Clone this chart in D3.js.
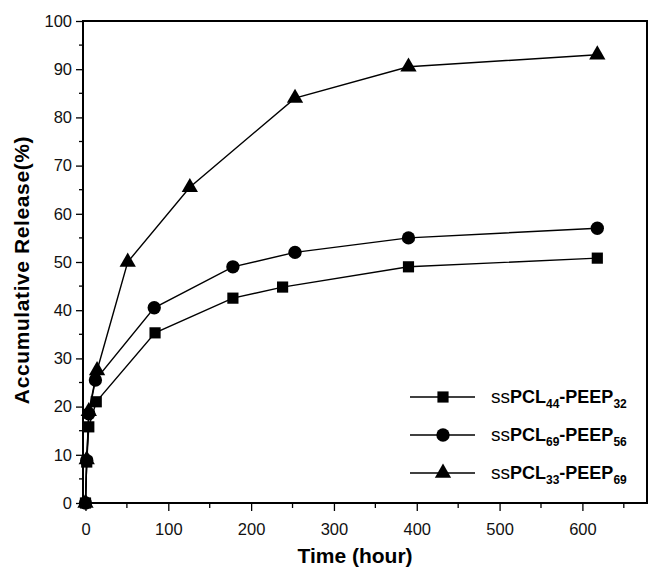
<!DOCTYPE html>
<html>
<head>
<meta charset="utf-8">
<script src="https://cdn.jsdelivr.net/npm/d3@7"></script>
<style>
	body { margin: 0; background: #fff; }
	svg { font-family: "Liberation Sans", Arial, sans-serif; }
</style>
</head>
<body>
<svg id="chart" width="649" height="568"></svg>
<script>
// Release data (time in hours, release in %)
var seriesNames = ["ssPCL44-PEEP32", "ssPCL69-PEEP56", "ssPCL33-PEEP69"];
var legendParts = [["44", "32"], ["69", "56"], ["33", "69"]];
var symbols = ["square", "circle", "triangle"];

var squareTimes = [0, 1.5, 4, 13, 84, 178, 238, 390, 618];
var squareValues = [0, 8.5, 15.8, 21, 35.3, 42.5, 44.8, 49, 50.8];

var circleTimes = [0, 1.5, 4, 12, 83, 178, 253, 390, 618];
var circleValues = [0, 8.8, 18.5, 25.5, 40.5, 49, 52, 55, 57];

var triangleTimes = [0, 1.5, 4, 14, 51, 126, 253, 390, 618];
var triangleValues = [0, 9, 19, 27.5, 50, 65.5, 84, 90.5, 93];

var xTicks = [0, 100, 200, 300, 400, 500, 600];
var yTicks = [0, 10, 20, 30, 40, 50, 60, 70, 80, 90, 100];

var zip = function(xs, ys)
{
	return xs.map(function(x, i) { return { x: x, y: ys[i] }; });
};

var allSeries = [
	zip(squareTimes, squareValues),
	zip(circleTimes, circleValues),
	zip(triangleTimes, triangleValues)
];

var svg = d3.select("#chart");

var x = d3.scaleLinear().domain([-3, 678]).range([83, 647]);
var y = d3.scaleLinear().domain([0, 100]).range([503, 21]);

// Minor ticks halfway between majors
var xMinor = d3.range(50, 678, 100);
var yMinor = d3.range(5, 100, 10);

var gx = svg.append("g").attr("transform", "translate(0,503)");
gx.selectAll("line.minor").data(xMinor).enter().append("line")
	.attr("x1", function(d) { return x(d); }).attr("x2", function(d) { return x(d); })
	.attr("y1", 0).attr("y2", 5)
	.attr("stroke", "#000").attr("stroke-width", 1.3);
gx.call(d3.axisBottom(x).tickValues(xTicks).tickSize(8).tickSizeOuter(0).tickPadding(9));

var gy = svg.append("g").attr("transform", "translate(83,0)");
gy.selectAll("line.minor").data(yMinor).enter().append("line")
	.attr("y1", function(d) { return y(d); }).attr("y2", function(d) { return y(d); })
	.attr("x1", 0).attr("x2", -4)
	.attr("stroke", "#000").attr("stroke-width", 1.3);
gy.call(d3.axisLeft(y).tickValues(yTicks).tickSize(7).tickSizeOuter(0).tickPadding(4));

svg.selectAll(".tick line").attr("stroke-width", 1.3);
svg.selectAll(".domain").remove();
svg.selectAll(".tick text")
	.attr("font-size", 16.5)
	.attr("font-family", "Liberation Sans, Arial, sans-serif")
	.attr("fill", "#111");
gx.selectAll(".tick text").attr("dy", "0.9em");

// Frame
svg.append("rect")
	.attr("x", x.range()[0]).attr("y", y.range()[1])
	.attr("width", x.range()[1] - x.range()[0])
	.attr("height", y.range()[0] - y.range()[1])
	.attr("fill", "none").attr("stroke", "#000").attr("stroke-width", 2);

// Axis titles
svg.append("text")
	.attr("x", 355).attr("y", 563)
	.attr("text-anchor", "middle")
	.attr("font-size", 21).attr("font-weight", "bold")
	.text("Time (hour)");

svg.append("text")
	.attr("transform", "translate(29,270) rotate(-90)")
	.attr("text-anchor", "middle")
	.attr("font-size", 21).attr("font-weight", "bold")
	.attr("letter-spacing", 0.6)
	.text("Accumulative Release(%)");

var symbolPath = function(kind)
{
	if (kind === "square") { return d3.symbol().type(d3.symbolSquare).size(125)(); }
	if (kind === "circle") { return d3.symbol().type(d3.symbolCircle).size(140)(); }
	return d3.symbol().type(d3.symbolTriangle).size(115)();
};

var line = d3.line()
	.x(function(d) { return x(d.x); })
	.y(function(d) { return y(d.y); });

allSeries.forEach(function(points, i)
{
	svg.append("path")
		.attr("d", line(points))
		.attr("fill", "none").attr("stroke", "#000").attr("stroke-width", 1.4);

	svg.append("g").selectAll("path").data(points).enter().append("path")
		.attr("d", symbolPath(symbols[i]))
		.attr("transform", function(d) { return "translate(" + x(d.x) + "," + y(d.y) + ")"; })
		.attr("fill", "#000");
});

// Legend
var legendRowY = [397, 435, 473];
var legend = svg.append("g");
seriesNames.forEach(function(name, i)
{
	var ly = legendRowY[i];
	legend.append("line")
		.attr("x1", 410).attr("x2", 475).attr("y1", ly).attr("y2", ly)
		.attr("stroke", "#000").attr("stroke-width", 1.4);
	legend.append("path")
		.attr("d", symbolPath(symbols[i]))
		.attr("transform", "translate(443," + ly + ")")
		.attr("fill", "#000");

	var t = legend.append("text")
		.attr("x", 491).attr("y", ly + 6)
		.attr("font-size", 18).attr("font-weight", "bold");
	t.append("tspan").attr("font-weight", "normal").attr("font-size", 19).text("ss");
	t.append("tspan").text("PCL");
	t.append("tspan").attr("font-size", 12).attr("dy", 5).text(legendParts[i][0]);
	t.append("tspan").attr("dy", -5).text("-PEEP");
	t.append("tspan").attr("font-size", 12).attr("dy", 5).text(legendParts[i][1]);
});
</script>
</body>
</html>
